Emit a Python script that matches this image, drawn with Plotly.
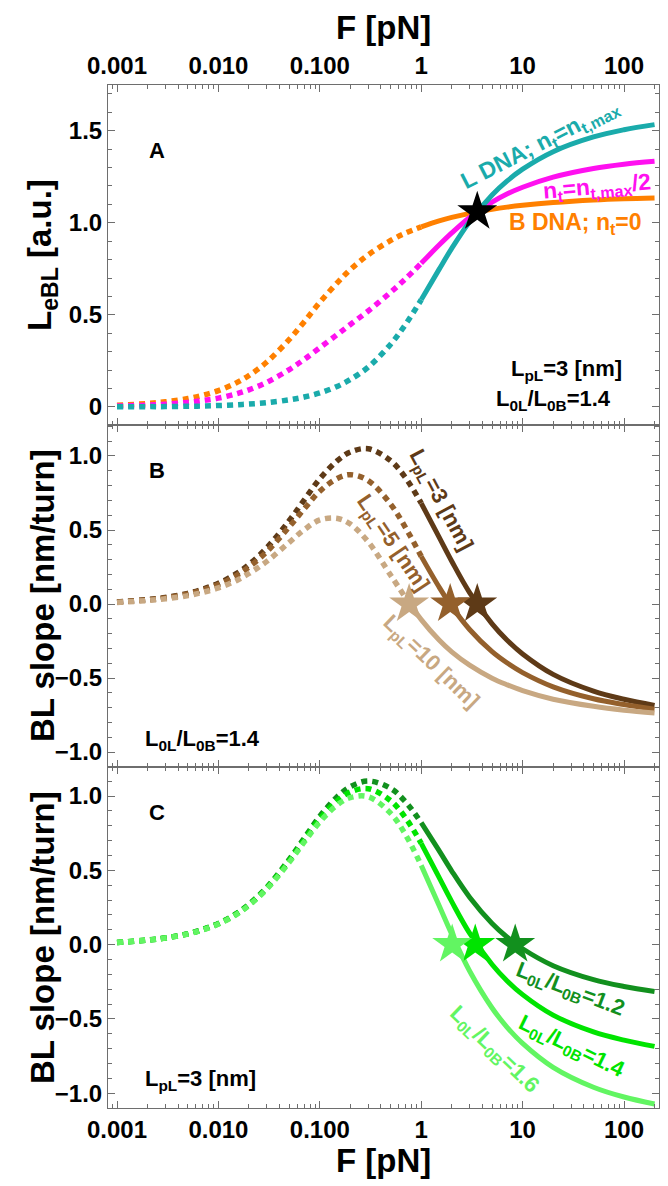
import plotly.graph_objects as go
from plotly.subplots import make_subplots

# Force grid (pN)
force = [0.001, 0.002, 0.003, 0.005, 0.007, 0.01, 0.015, 0.02, 0.03, 0.05, 0.07,
         0.1, 0.15, 0.2, 0.3, 0.5, 0.7, 1, 1.5, 2, 3, 5, 7, 10, 20, 50, 100, 200]

# Panel A: effective base-pair length (a.u.)
len_bdna = [0.009, 0.019, 0.028, 0.046, 0.064, 0.089, 0.131, 0.171, 0.244, 0.367, 0.462,
            0.568, 0.677, 0.746, 0.826, 0.904, 0.944, 0.978, 1.010, 1.029, 1.051, 1.073,
            1.085, 1.095, 1.110, 1.124, 1.131, 1.135]
len_half = [0.005, 0.010, 0.015, 0.025, 0.035, 0.048, 0.071, 0.093, 0.134, 0.203, 0.258,
            0.322, 0.395, 0.448, 0.521, 0.623, 0.696, 0.780, 0.879, 0.945, 1.029, 1.112,
            1.156, 1.193, 1.248, 1.295, 1.318, 1.334]
len_ldna = [0.001, 0.002, 0.002, 0.004, 0.005, 0.008, 0.012, 0.016, 0.023, 0.039, 0.054,
            0.076, 0.113, 0.149, 0.216, 0.341, 0.448, 0.582, 0.747, 0.861, 1.006, 1.151,
            1.226, 1.291, 1.386, 1.466, 1.505, 1.533]
star_a_force = 3.57
star_a_len = 1.06

# Panel B: BL slope (nm/turn) for different L-DNA persistence lengths
slope_lp3 = [0.014, 0.030, 0.044, 0.072, 0.101, 0.140, 0.205, 0.267, 0.380, 0.564, 0.702,
             0.846, 0.970, 1.027, 1.049, 0.968, 0.853, 0.681, 0.452, 0.289, 0.077, -0.134,
             -0.243, -0.337, -0.475, -0.588, -0.643, -0.685]
slope_lp5 = [0.013, 0.028, 0.041, 0.068, 0.094, 0.131, 0.192, 0.250, 0.353, 0.522, 0.642,
             0.762, 0.850, 0.874, 0.834, 0.674, 0.516, 0.322, 0.115, -0.017, -0.172, -0.322,
             -0.397, -0.463, -0.559, -0.640, -0.679, -0.710]
slope_lp10 = [0.011, 0.024, 0.035, 0.057, 0.079, 0.109, 0.158, 0.206, 0.288, 0.417, 0.501,
              0.568, 0.578, 0.540, 0.420, 0.194, 0.043, -0.105, -0.243, -0.323, -0.413,
              -0.501, -0.545, -0.585, -0.643, -0.691, -0.717, -0.736]
zero_force_b = [3.57, 1.93, 0.76]
split_force_b = [1, 1, 0.7]

# Panel C: BL slope for different contour-length ratios (LpL = 3 nm)
slope_r12 = [0.014, 0.030, 0.045, 0.073, 0.102, 0.142, 0.208, 0.271, 0.385, 0.574, 0.715,
             0.864, 0.998, 1.063, 1.101, 1.051, 0.961, 0.821, 0.632, 0.495, 0.319, 0.142,
             0.051, -0.028, -0.142, -0.236, -0.282, -0.316]
slope_r14 = [0.014, 0.030, 0.044, 0.072, 0.101, 0.140, 0.205, 0.267, 0.380, 0.564, 0.702,
             0.846, 0.970, 1.027, 1.049, 0.968, 0.853, 0.681, 0.452, 0.289, 0.077, -0.134,
             -0.243, -0.337, -0.475, -0.588, -0.643, -0.685]
slope_r16 = [0.014, 0.030, 0.044, 0.071, 0.099, 0.138, 0.202, 0.264, 0.374, 0.555, 0.689,
             0.826, 0.942, 0.989, 0.995, 0.883, 0.740, 0.533, 0.263, 0.070, -0.178, -0.427,
             -0.555, -0.665, -0.826, -0.960, -1.026, -1.073]
zero_force_c = [8.45, 3.41, 2.02]

xtick_vals = [0.001, 0.01, 0.1, 1, 10, 100]
xtick_text = ["0.001", "0.010", "0.100", "1", "10", "100"]

ORANGE, MAGENTA, TEAL = "#FF8000", "#FF10F0", "#1AABAB"
BROWNS = ["#5E3A17", "#94602C", "#C8A882"]
GREENS = ["#12901E", "#00E400", "#62F562"]
AXIS = "#6E6E6E"
FONT = "Liberation Sans"

W, H = 668, 1186
ML, MR, MT, MB = 108, 9, 85, 78
PW, PH = W - ML - MR, H - MT - MB

fig = make_subplots(rows=3, cols=1, vertical_spacing=0)

DOT = "6px,5px"


def add_split(row, vals, color, split):
    lo_x = [f for f in force if f <= split]
    lo_y = [v for f, v in zip(force, vals) if f <= split]
    hi_x = [f for f in force if f >= split]
    hi_y = [v for f, v in zip(force, vals) if f >= split]
    fig.add_trace(go.Scatter(x=lo_x, y=lo_y, mode="lines", line=dict(color=color, width=5.5, dash=DOT, shape="spline"),
                             showlegend=False, hoverinfo="skip"), row=row, col=1)
    fig.add_trace(go.Scatter(x=hi_x, y=hi_y, mode="lines", line=dict(color=color, width=5, shape="spline"),
                             showlegend=False, hoverinfo="skip"), row=row, col=1)


# Panel A curves
add_split(1, len_bdna, ORANGE, 1)
add_split(1, len_half, MAGENTA, 1)
add_split(1, len_ldna, TEAL, 1)
fig.add_trace(go.Scatter(x=[star_a_force], y=[star_a_len], mode="markers",
                         marker=dict(symbol="star", size=30, color="black"),
                         showlegend=False, hoverinfo="skip"), row=1, col=1)

# Zero reference lines in B and C
for r in (2, 3):
    fig.add_hline(y=0, line=dict(color="black", width=6), row=r, col=1)
    fig.add_hline(y=0, line=dict(color="#8A8A8A", width=1.2), row=r, col=1)

# Panel B curves
for vals, col, sp in zip([slope_lp3, slope_lp5, slope_lp10], BROWNS, split_force_b):
    add_split(2, vals, col, sp)
for fz, col in zip(zero_force_b, BROWNS):
    fig.add_trace(go.Scatter(x=[fz], y=[0], mode="markers",
                             marker=dict(symbol="star", size=30, color=col),
                             showlegend=False, hoverinfo="skip"), row=2, col=1)

# Panel C curves
for vals, col in zip([slope_r12, slope_r14, slope_r16], GREENS):
    add_split(3, vals, col, 1)
for fz, col in zip(zero_force_c, GREENS):
    fig.add_trace(go.Scatter(x=[fz], y=[0], mode="markers",
                             marker=dict(symbol="star", size=30, color=col),
                             showlegend=False, hoverinfo="skip"), row=3, col=1)

# Axes
tickfont = dict(family=FONT, size=24, color="black", weight="bold")
domains = [(0.6676, 1.0), (0.3333, 0.6676), (0.0, 0.3333)]
yranges = [(-0.098, 1.748), (-1.101, 1.209), (-1.10, 1.195)]
for i in range(3):
    sfx = "" if i == 0 else str(i + 1)
    fig.layout["xaxis" + sfx].update(
        type="log", range=[-3.089, 2.345], domain=[0, 1],
        showline=True, linecolor=AXIS, linewidth=1, mirror="ticks",
        ticks="inside", ticklen=7, tickcolor=AXIS, tickwidth=1,
        tickvals=xtick_vals, ticktext=xtick_text, tickfont=tickfont,
        showticklabels=(i != 1), side="top" if i == 0 else "bottom",
        minor=dict(ticks="inside", ticklen=4, tickcolor=AXIS, dtick="D1", showgrid=False),
        showgrid=False, zeroline=False,
    )
    if i == 0:
        yt = dict(tickvals=[0, 0.5, 1, 1.5], ticktext=["0", "0.5", "1.0", "1.5"])
    else:
        yt = dict(tickvals=[-1, -0.5, 0, 0.5, 1], ticktext=["\u22121.0", "\u22120.5", "0.0", "0.5", "1.0"])
    fig.layout["yaxis" + sfx].update(
        range=list(yranges[i]), domain=list(domains[i]),
        showline=True, linecolor=AXIS, linewidth=1, mirror="ticks",
        ticks="inside", ticklen=7, tickcolor=AXIS, tickwidth=1, tickfont=tickfont,
        minor=dict(ticks="inside", ticklen=4, tickcolor=AXIS, dtick=0.1, showgrid=False),
        showgrid=False, zeroline=False, **yt,
    )


def pos(xp, yp):
    return (xp - ML) / PW, (H - MB - yp) / PH


def label(xp, yp, text, size=22, color="black", angle=0):
    x, y = pos(xp, yp)
    fig.add_annotation(x=x, y=y, xref="paper", yref="paper", text=text, showarrow=False,
                       textangle=angle, xanchor="center", yanchor="middle",
                       font=dict(family=FONT, size=size, color=color, weight="bold"))


# Axis titles
label(383, 27, "F [pN]", size=33)
label(383, 1160, "F [pN]", size=33)
label(42, 255, "L<sub>eBL</sub> [a.u.]", size=33, angle=-90)
label(42, 596, "BL slope [nm/turn]", size=33, angle=-90)
label(42, 938, "BL slope [nm/turn]", size=33, angle=-90)

# Panel letters
label(157, 150, "A")
label(157, 470, "B")
label(157, 812, "C")

# Panel A texts
label(540, 145, "L DNA; n<sub>t</sub>=n<sub>t,max</sub>", size=23, color=TEAL, angle=-27)
label(597, 187, "n<sub>t</sub>=n<sub>t,max</sub>/2", size=23, color=MAGENTA, angle=-5)
label(575, 223, "B DNA; n<sub>t</sub>=0", size=23, color=ORANGE)
label(566, 370, "L<sub>pL</sub>=3 [nm]", size=22)
label(553, 400, "L<sub>0L</sub>/L<sub>0B</sub>=1.4", size=22)

# Panel B texts
label(440, 500, "L<sub>pL</sub>=3 [nm]", size=22, color=BROWNS[0], angle=62)
label(392, 543, "L<sub>pL</sub>=5 [nm]", size=22, color=BROWNS[1], angle=56)
label(430, 662, "L<sub>pL</sub>=10 [nm]", size=22, color=BROWNS[2], angle=44)
label(202, 740, "L<sub>0L</sub>/L<sub>0B</sub>=1.4", size=22)

# Panel C texts
label(570, 990, "L<sub>0L</sub>/L<sub>0B</sub>=1.2", size=22, color=GREENS[0], angle=21)
label(571, 1047, "L<sub>0L</sub>/L<sub>0B</sub>=1.4", size=22, color=GREENS[1], angle=26)
label(494, 1050, "L<sub>0L</sub>/L<sub>0B</sub>=1.6", size=22, color=GREENS[2], angle=44)
label(200, 1080, "L<sub>pL</sub>=3 [nm]", size=22)

fig.update_layout(
    width=W, height=H,
    margin=dict(l=ML, r=MR, t=MT, b=MB),
    paper_bgcolor="white", plot_bgcolor="white",
    showlegend=False,
)

fig.write_html("out.html")
